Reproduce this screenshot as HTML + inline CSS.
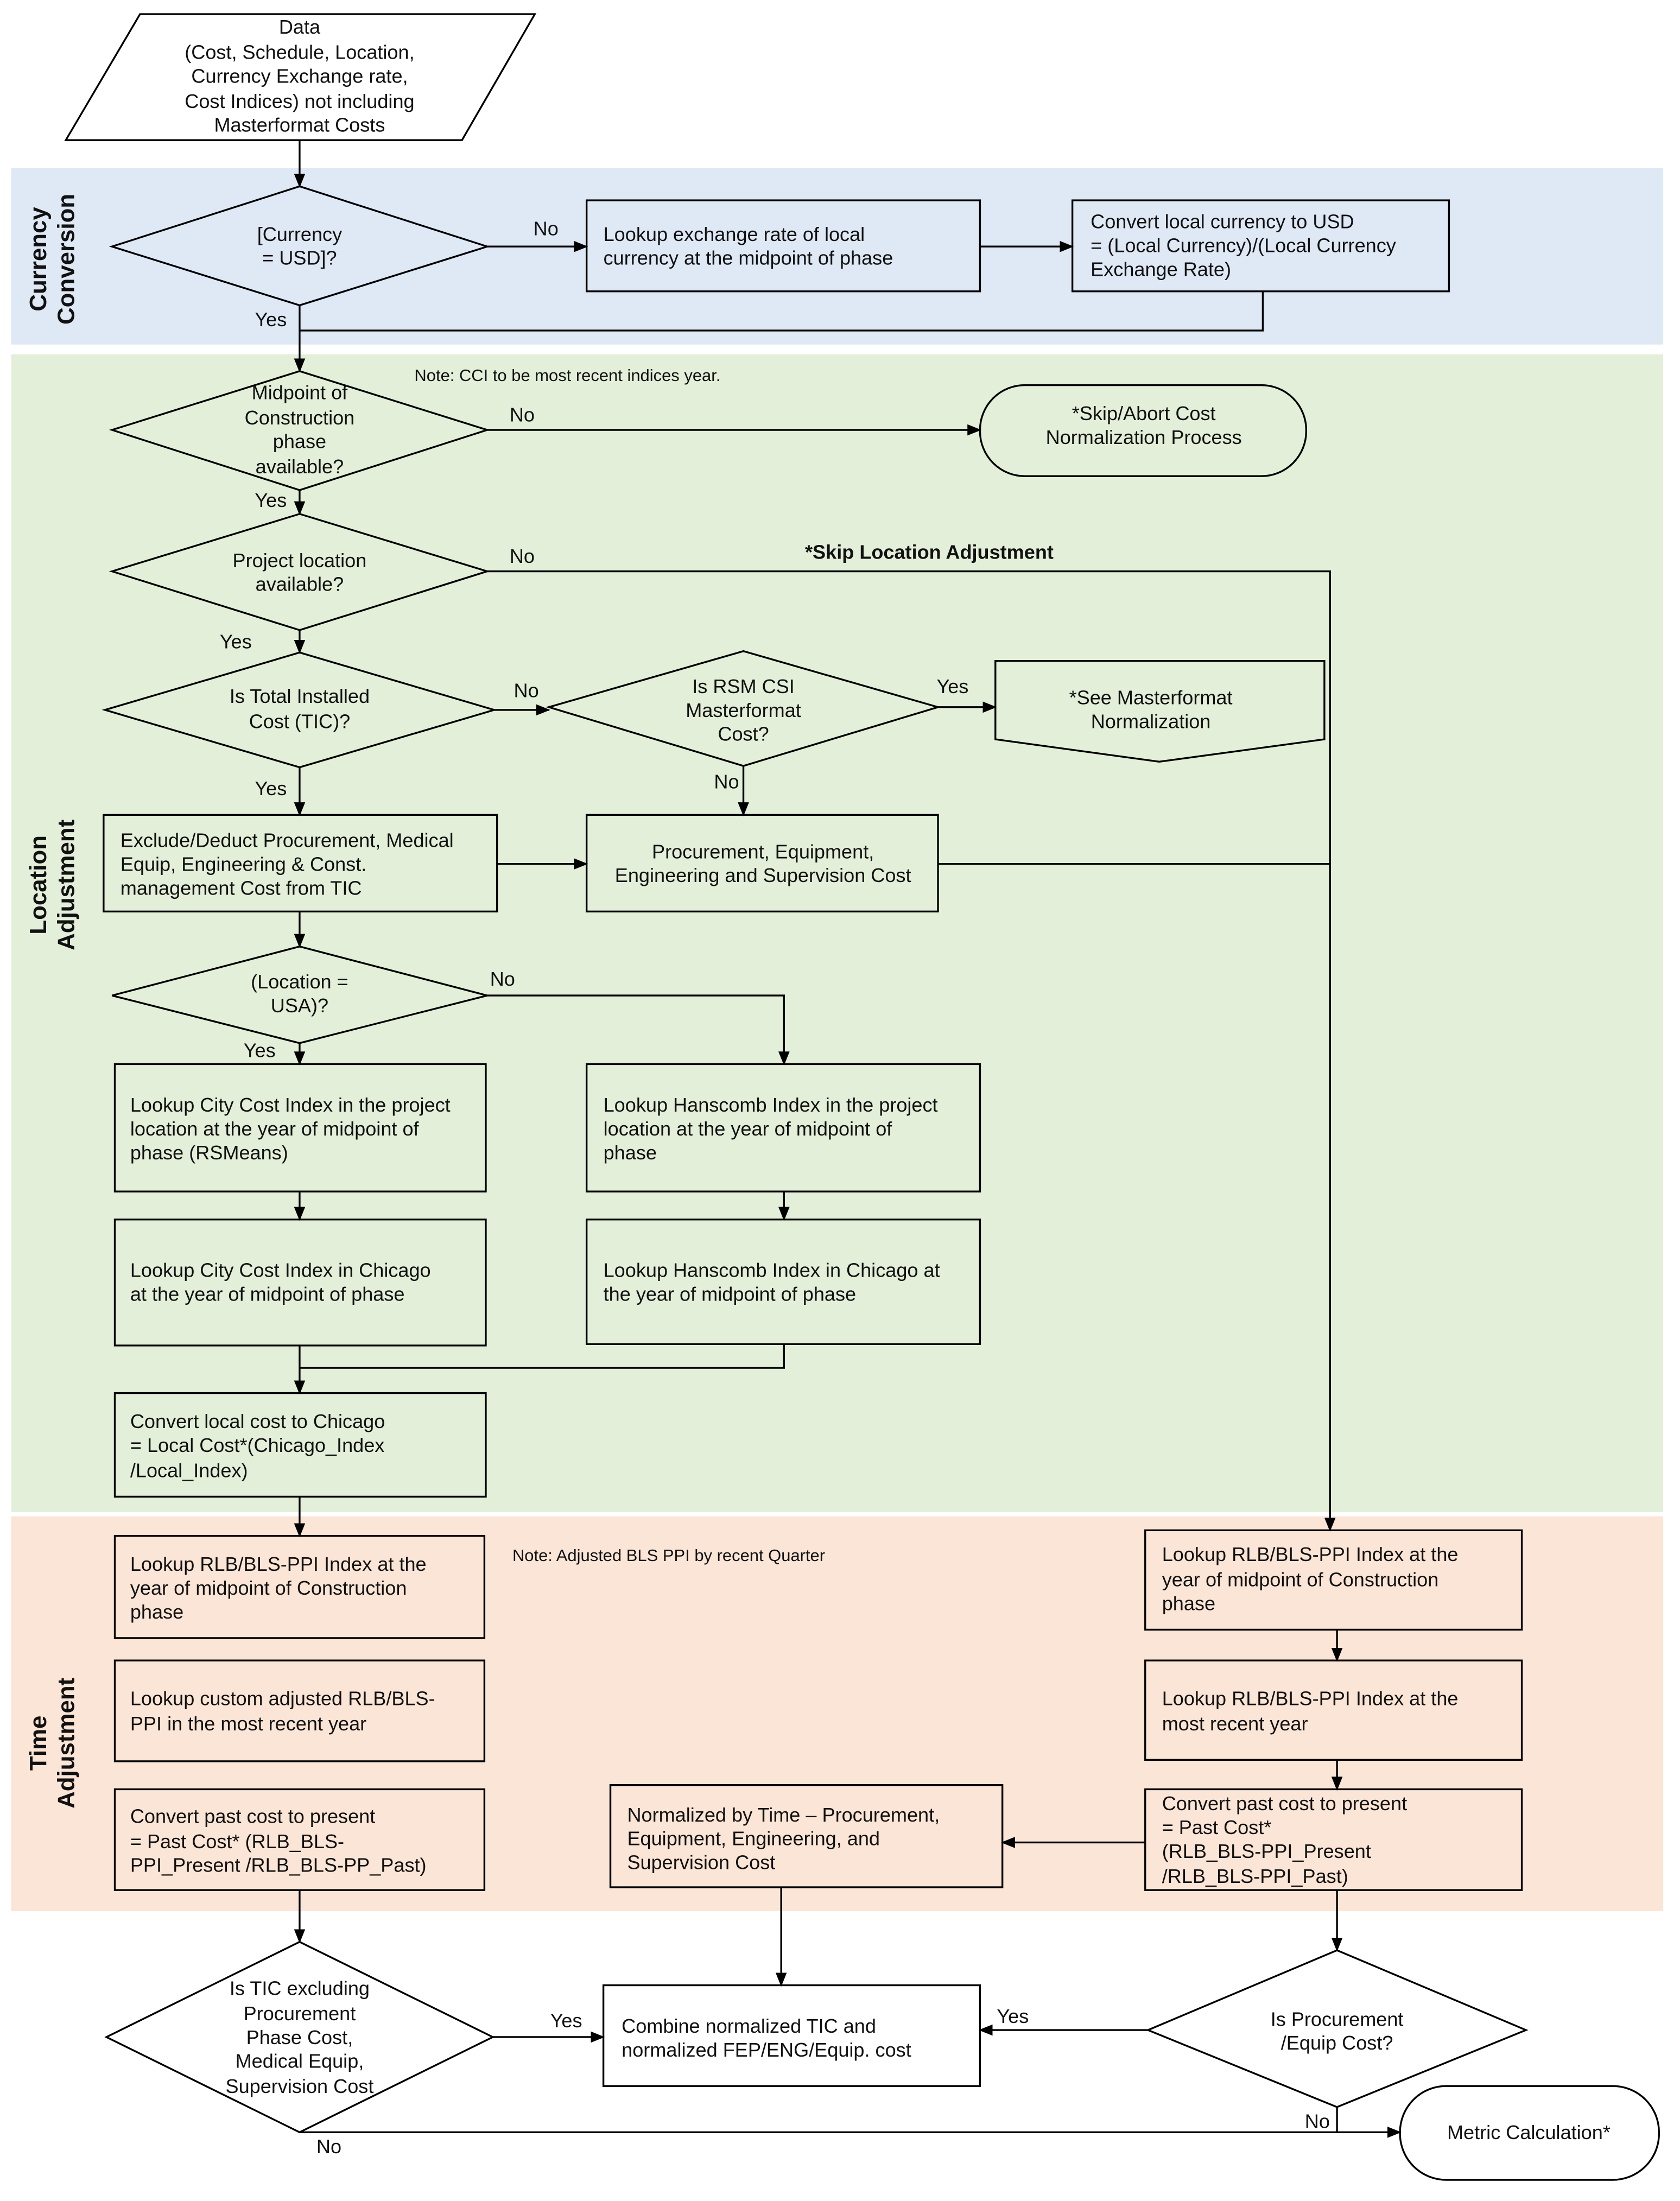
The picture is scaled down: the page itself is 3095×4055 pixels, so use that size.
<!DOCTYPE html>
<html><head><meta charset="utf-8"><style>
html,body{margin:0;padding:0;background:#fff}
svg{display:block}
text{font-family:"Liberation Sans",Arial,sans-serif;font-size:14px;fill:#111}
.c{text-anchor:middle}
.b{font-weight:bold}
.s{font-size:12px}
</style></head><body>
<svg width="3095" height="4055" viewBox="0 0 1200 1572" xmlns="http://www.w3.org/2000/svg">
<defs><marker id="a" markerWidth="10" markerHeight="10" refX="9" refY="5" orient="auto" markerUnits="userSpaceOnUse"><path d="M0,1 L10,5 L0,9 z" fill="#000"/></marker></defs>
<rect x="8" y="120" width="1180" height="126" fill="#dfe8f5"/>
<rect x="8" y="253" width="1180" height="827" fill="#e3efd9"/>
<rect x="8" y="1083" width="1180" height="282" fill="#fbe5d6"/>
<g class="b" style="font-size:17px">
<text transform="translate(33,185) rotate(-90)" class="c b" style="font-size:17px">Currency</text>
<text transform="translate(53,185) rotate(-90)" class="c b" style="font-size:17px">Conversion</text>
<text transform="translate(33,632) rotate(-90)" class="c b" style="font-size:17px">Location</text>
<text transform="translate(53,632) rotate(-90)" class="c b" style="font-size:17px">Adjustment</text>
<text transform="translate(33,1245) rotate(-90)" class="c b" style="font-size:17px">Time</text>
<text transform="translate(53,1245) rotate(-90)" class="c b" style="font-size:17px">Adjustment</text>
</g>
<g fill="none" stroke="#000" stroke-width="1.3">
<polygon points="47,100 100,10 382,10 330,100" fill="#fff"/>
<polygon points="80,176 214,133 348,176 214,218"/>
<rect x="419" y="143" width="281" height="65"/>
<rect x="766" y="143" width="269" height="65"/>
<polygon points="80,307 214,265 348,307 214,350"/>
<rect x="700" y="275" width="233" height="65" rx="32"/>
<polygon points="80,408 214,367 348,408 214,450"/>
<polygon points="75,507 214,466 353,507 214,548"/>
<polygon points="392,505 531,465 670,505 531,547"/>
<polygon points="711,472 946,472 946,528 828,544 711,528"/>
<rect x="419" y="582" width="251" height="69"/>
<rect x="74" y="582" width="281" height="69"/>
<polygon points="80,711 214,676 348,711 214,745"/>
<rect x="82" y="760" width="265" height="91"/>
<rect x="419" y="760" width="281" height="91"/>
<rect x="82" y="871" width="265" height="90"/>
<rect x="419" y="871" width="281" height="89"/>
<rect x="82" y="995" width="265" height="74"/>
<rect x="82" y="1097" width="264" height="73"/>
<rect x="82" y="1186" width="264" height="72"/>
<rect x="82" y="1278" width="264" height="72"/>
<rect x="818" y="1093" width="269" height="71"/>
<rect x="818" y="1186" width="269" height="71"/>
<rect x="818" y="1278" width="269" height="72"/>
<rect x="436" y="1275" width="280" height="73"/>
<polygon points="76,1455 214,1387 352,1455 214,1523"/>
<rect x="431" y="1418" width="269" height="72"/>
<polygon points="820,1450 955,1393 1090,1450 955,1505"/>
<rect x="1000" y="1490" width="185" height="67" rx="33"/>
</g>
<g fill="none" stroke="#000" stroke-width="1.3">
<path d="M214,100 V133" marker-end="url(#a)"/>
<path d="M348,176 H419" marker-end="url(#a)"/>
<path d="M700,176 H766" marker-end="url(#a)"/>
<path d="M902,208 V236 H214"/>
<path d="M214,218 V265" marker-end="url(#a)"/>
<path d="M348,307 H700" marker-end="url(#a)"/>
<path d="M214,350 V367" marker-end="url(#a)"/>
<path d="M348,408 H950 V1093" marker-end="url(#a)"/>
<path d="M214,450 V466" marker-end="url(#a)"/>
<path d="M353,507 H392" marker-end="url(#a)"/>
<path d="M670,505 H711" marker-end="url(#a)"/>
<path d="M531,547 V582" marker-end="url(#a)"/>
<path d="M214,548 V582" marker-end="url(#a)"/>
<path d="M670,617 H950"/>
<path d="M355,617 H419" marker-end="url(#a)"/>
<path d="M214,651 V676" marker-end="url(#a)"/>
<path d="M348,711 H560 V760" marker-end="url(#a)"/>
<path d="M214,745 V760" marker-end="url(#a)"/>
<path d="M214,851 V871" marker-end="url(#a)"/>
<path d="M560,851 V871" marker-end="url(#a)"/>
<path d="M560,960 V977 H214"/>
<path d="M214,961 V995" marker-end="url(#a)"/>
<path d="M214,1069 V1097" marker-end="url(#a)"/>
<path d="M955,1164 V1186" marker-end="url(#a)"/>
<path d="M955,1257 V1278" marker-end="url(#a)"/>
<path d="M818,1316 H716" marker-end="url(#a)"/>
<path d="M558,1348 V1418" marker-end="url(#a)"/>
<path d="M214,1350 V1387" marker-end="url(#a)"/>
<path d="M352,1455 H431" marker-end="url(#a)"/>
<path d="M955,1350 V1393" marker-end="url(#a)"/>
<path d="M820,1450 H700" marker-end="url(#a)"/>
<path d="M955,1505 V1523"/>
<path d="M214,1523 H1000" marker-end="url(#a)"/>
</g>
<g>
<text x="214" y="24" class="c">Data</text>
<text x="214" y="42" class="c">(Cost, Schedule, Location,</text>
<text x="214" y="59" class="c">Currency Exchange rate,</text>
<text x="214" y="77" class="c">Cost Indices) not including</text>
<text x="214" y="94" class="c">Masterformat Costs</text>
<text x="214" y="172" class="c">[Currency</text>
<text x="214" y="189" class="c">= USD]?</text>
<text x="381" y="168">No</text>
<text x="431" y="172">Lookup exchange rate of local</text>
<text x="431" y="189">currency at the midpoint of phase</text>
<text x="779" y="163">Convert local currency to USD</text>
<text x="779" y="180">= (Local Currency)/(Local Currency</text>
<text x="779" y="197">Exchange Rate)</text>
<text x="182" y="233">Yes</text>
<text x="296" y="272" class="s">Note:  CCI to be most recent indices year.</text>
<text x="214" y="285" class="c">Midpoint of</text>
<text x="214" y="303" class="c">Construction</text>
<text x="214" y="320" class="c">phase</text>
<text x="214" y="338" class="c">available?</text>
<text x="364" y="301">No</text>
<text x="817" y="300" class="c">*Skip/Abort Cost</text>
<text x="817" y="317" class="c">Normalization Process</text>
<text x="182" y="362">Yes</text>
<text x="214" y="405" class="c">Project location</text>
<text x="214" y="422" class="c">available?</text>
<text x="364" y="402">No</text>
<text x="575" y="399" class="b">*Skip Location Adjustment</text>
<text x="157" y="463">Yes</text>
<text x="214" y="502" class="c">Is Total Installed</text>
<text x="214" y="520" class="c">Cost (TIC)?</text>
<text x="367" y="498">No</text>
<text x="531" y="495" class="c">Is RSM CSI</text>
<text x="531" y="512" class="c">Masterformat</text>
<text x="531" y="529" class="c">Cost?</text>
<text x="669" y="495">Yes</text>
<text x="822" y="503" class="c">*See Masterformat</text>
<text x="822" y="520" class="c">Normalization</text>
<text x="510" y="563">No</text>
<text x="182" y="568">Yes</text>
<text x="545" y="613" class="c">Procurement, Equipment,</text>
<text x="545" y="630" class="c">Engineering and Supervision Cost</text>
<text x="86" y="605">Exclude/Deduct Procurement, Medical</text>
<text x="86" y="622">Equip, Engineering &amp; Const.</text>
<text x="86" y="639">management Cost from TIC</text>
<text x="214" y="706" class="c">(Location =</text>
<text x="214" y="723" class="c">USA)?</text>
<text x="350" y="704">No</text>
<text x="174" y="755">Yes</text>
<text x="93" y="794">Lookup City Cost Index in the project</text>
<text x="93" y="811">location at the year of midpoint of</text>
<text x="93" y="828">phase (RSMeans)</text>
<text x="431" y="794">Lookup Hanscomb Index in the project</text>
<text x="431" y="811">location at the year of midpoint of</text>
<text x="431" y="828">phase</text>
<text x="93" y="912">Lookup City Cost Index in Chicago</text>
<text x="93" y="929">at the year of midpoint of phase</text>
<text x="431" y="912">Lookup Hanscomb Index in Chicago at</text>
<text x="431" y="929">the year of midpoint of phase</text>
<text x="93" y="1020">Convert local cost to Chicago</text>
<text x="93" y="1037">= Local Cost*(Chicago_Index</text>
<text x="93" y="1055">/Local_Index)</text>
<text x="93" y="1122">Lookup RLB/BLS-PPI Index at the</text>
<text x="93" y="1139">year of midpoint of Construction</text>
<text x="93" y="1156">phase</text>
<text x="366" y="1115" class="s">Note:  Adjusted BLS PPI  by recent Quarter</text>
<text x="93" y="1218">Lookup custom adjusted RLB/BLS-</text>
<text x="93" y="1236">PPI in the most recent year</text>
<text x="93" y="1302">Convert past cost to present</text>
<text x="93" y="1320">= Past Cost* (RLB_BLS-</text>
<text x="93" y="1337">PPI_Present /RLB_BLS-PP_Past)</text>
<text x="830" y="1115">Lookup RLB/BLS-PPI Index at the</text>
<text x="830" y="1133">year of midpoint of Construction</text>
<text x="830" y="1150">phase</text>
<text x="830" y="1218">Lookup RLB/BLS-PPI Index at the</text>
<text x="830" y="1236">most recent year</text>
<text x="830" y="1293">Convert past cost to present</text>
<text x="830" y="1310">= Past Cost*</text>
<text x="830" y="1327">(RLB_BLS-PPI_Present</text>
<text x="830" y="1345">/RLB_BLS-PPI_Past)</text>
<text x="448" y="1301">Normalized by Time – Procurement,</text>
<text x="448" y="1318">Equipment, Engineering, and</text>
<text x="448" y="1335">Supervision Cost</text>
<text x="214" y="1425" class="c">Is TIC excluding</text>
<text x="214" y="1443" class="c">Procurement</text>
<text x="214" y="1460" class="c">Phase Cost,</text>
<text x="214" y="1477" class="c">Medical Equip,</text>
<text x="214" y="1495" class="c">Supervision Cost</text>
<text x="393" y="1448">Yes</text>
<text x="444" y="1452">Combine normalized TIC and</text>
<text x="444" y="1469">normalized FEP/ENG/Equip. cost</text>
<text x="955" y="1447" class="c">Is Procurement</text>
<text x="955" y="1464" class="c">/Equip Cost?</text>
<text x="712" y="1445">Yes</text>
<text x="932" y="1520">No</text>
<text x="226" y="1538">No</text>
<text x="1092" y="1528" class="c">Metric Calculation*</text>
</g>
</svg>
</body></html>
